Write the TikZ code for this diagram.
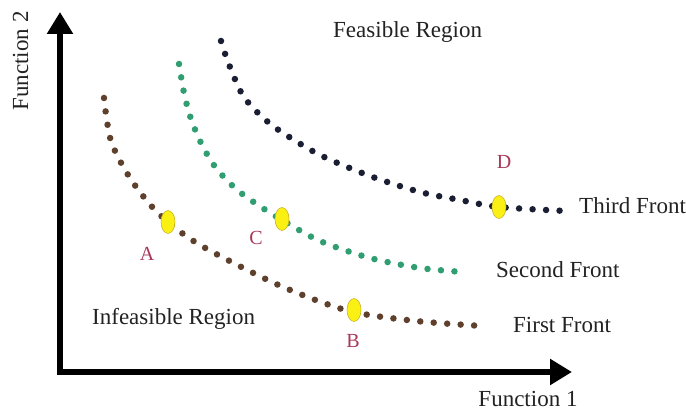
\documentclass[tikz,border=0pt]{standalone}
\usepackage{fontspec}
\setmainfont{Liberation Serif}
\usetikzlibrary{arrows.meta,shapes.geometric}
\definecolor{frontone}{RGB}{94,64,44}
\definecolor{fronttwo}{RGB}{48,158,112}
\definecolor{frontthree}{RGB}{26,30,50}
\definecolor{ptlabel}{RGB}{168,56,88}
\definecolor{ptfill}{RGB}{250,240,20}
\definecolor{ptedge}{RGB}{200,180,40}
\definecolor{txt}{RGB}{34,34,34}
\tikzset{
  axis/.style={line width=6pt,-{Triangle[width=25pt,length=22pt]}},
  front/.style={line width=6.5pt,line cap=round,dash pattern=on 0pt off 13.5pt},
  solution/.style={ellipse,draw=ptedge,fill=ptfill,line width=0.6pt,minimum width=14pt,minimum height=23pt,inner sep=0pt},
  ptname/.style={anchor=base,text=ptlabel,font=\fontsize{20}{24}\selectfont,inner sep=0pt},
  region/.style={anchor=base west,text=txt,font=\fontsize{23}{27}\selectfont,inner sep=0pt}
}
\begin{document}
\begin{tikzpicture}[x=1pt,y=-1pt]
\useasboundingbox (0,0) rectangle (686,411);

% axes
\coordinate (origin) at (60,372);
\coordinate (ytip) at (60,12);
\coordinate (xtip) at (572,372);
\coordinate (ystart) at (60,375);
\coordinate (xstart) at (57,372);
\draw[axis] (ystart) -- (ytip);
\draw[axis] (xstart) -- (xtip);
\node[region,anchor=base,rotate=90] (ylab) at (28,61) {Function 2};
\node[region,anchor=base] (xlab) at (528,407) {Function 1};

% three non-dominated fronts
\draw[front,frontone] plot[smooth] coordinates {(104,98) (111,141) (130,178) (155,210) (186,236) (220,256) (283,287) (349,311) (416,321) (482,326)};
\draw[front,fronttwo] plot[smooth] coordinates {(179,64) (184,93) (191,119) (202,145) (216,168) (236,189) (258,205) (282,220) (320,241) (370,258) (420,268) (463,272)};
\draw[front,frontthree] plot[smooth] coordinates {(221,41) (228,62) (242,94) (259,114) (280,131) (320,155) (370,176) (420,192) (460,200) (499,207) (566,211)};

% highlighted solutions
\node[solution] (sA) at (168,222) {};
\node[solution] (sC) at (282,219) {};
\node[solution] (sB) at (354,310) {};
\node[solution] (sD) at (499,207) {};
\node[ptname] (lA) at (147,261) {A};
\node[ptname] (lC) at (256,245) {C};
\node[ptname] (lB) at (353,348) {B};
\node[ptname] (lD) at (504,169) {D};

% region and front names
\node[region] (feas) at (333,38) {Feasible Region};
\node[region] (infeas) at (92,325) {Infeasible Region};
\node[region] (third) at (579,214) {Third Front};
\node[region] (second) at (496,278) {Second Front};
\node[region] (first) at (513,333) {First Front};
\end{tikzpicture}
\end{document}
